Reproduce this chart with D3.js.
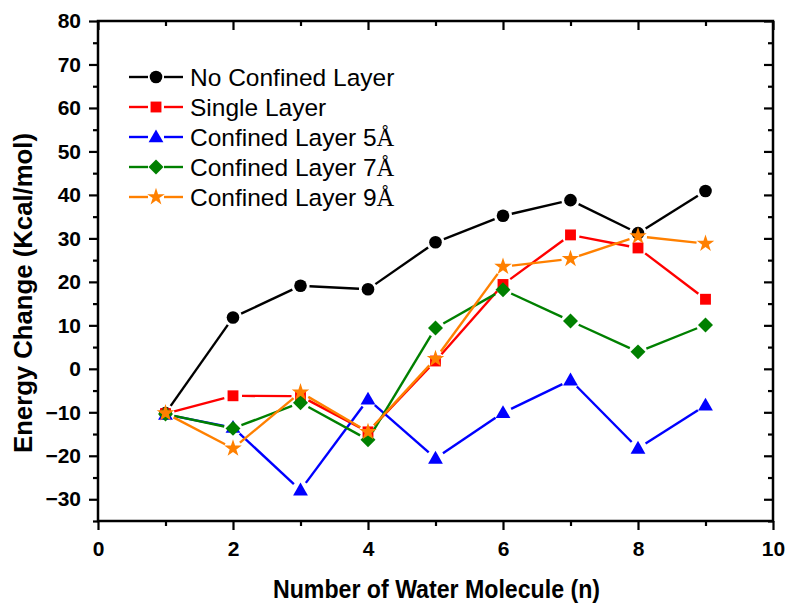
<!DOCTYPE html>
<html>
<head>
<meta charset="utf-8">
<script src="https://cdn.jsdelivr.net/npm/d3@7"></script>
<style>
  body { margin: 0; background: #fff; }
  text { font-family: "Liberation Sans", Arial, sans-serif; }
</style>
</head>
<body>
<svg id="chart" width="786" height="603"></svg>
<script>
// data
const xValues = [1, 2, 3, 4, 5, 6, 7, 8, 9];
const noConfined = [-10.2, 11.8, 19.1, 18.3, 29.1, 35.2, 38.8, 31.2, 40.9];
const singleLayer = [-10.3, -6.2, -6.3, -14.5, 1.8, 19.4, 30.8, 27.8, 16.0];
const confined5 = [-10.5, -13.5, -27.9, -7.0, -20.6, -10.1, -2.6, -18.3, -8.4];
const confined7 = [-10.4, -13.7, -7.8, -16.3, 9.4, 18.2, 11.0, 3.9, 10.1];
const confined9 = [-10.2, -18.3, -5.4, -14.5, 2.3, 23.5, 25.3, 30.5, 28.8];
const seriesNames = ["No Confined Layer", "Single Layer", "Confined Layer 5", "Confined Layer 7", "Confined Layer 9"];
const xTicks = [0, 2, 4, 6, 8, 10];
const yTicks = [-30, -20, -10, 0, 10, 20, 30, 40, 50, 60, 70, 80];

const series = [
  { name: seriesNames[0], values: noConfined, color: "#000000", shape: "circle", angstrom: false },
  { name: seriesNames[1], values: singleLayer, color: "#ff0000", shape: "square", angstrom: false },
  { name: seriesNames[2], values: confined5, color: "#0000ff", shape: "triangle", angstrom: true },
  { name: seriesNames[3], values: confined7, color: "#008000", shape: "diamond", angstrom: true },
  { name: seriesNames[4], values: confined9, color: "#ff8000", shape: "star", angstrom: true }
];

const plotLeft = 98, plotRight = 773, plotTop = 21, plotBottom = 521;

const svg = d3.select("#chart");

const x = d3.scaleLinear().domain([0, 10]).range([plotLeft, plotRight]);
const y = d3.scaleLinear().domain([-35, 80]).range([plotBottom, plotTop]);

// marker paths
function markerPath(shape) {
  if (shape === "circle") return d3.symbol(d3.symbolCircle, 125)();
  if (shape === "square") return d3.symbol(d3.symbolSquare, 118)();
  if (shape === "triangle") return d3.symbol(d3.symbolTriangle, 95)();
  if (shape === "diamond") return d3.symbol(d3.symbolSquare, 112)();
  return d3.symbol(d3.symbolStar, 95)();
}
function markerTransform(shape, px, py) {
  if (shape === "diamond") return `translate(${px},${py}) rotate(45)`;
  if (shape === "triangle") return `translate(${px},${py + 1})`;
  return `translate(${px},${py})`;
}

// axes
const tickFont = "bold 21px 'Liberation Sans', Arial, sans-serif";

const xAxis = d3.axisBottom(x).tickValues(xTicks).tickSize(9).tickPadding(11);
svg.append("g").attr("transform", `translate(0,${plotBottom})`).call(xAxis);
const xMinor = d3.axisBottom(x).tickValues(d3.range(1, 10, 2)).tickSize(5).tickFormat("");
svg.append("g").attr("transform", `translate(0,${plotBottom})`).call(xMinor);

const yAxis = d3.axisLeft(y).tickValues(yTicks).tickSize(9).tickPadding(8);
svg.append("g").attr("transform", `translate(${plotLeft},0)`).call(yAxis);
const yMinor = d3.axisLeft(y).tickValues(d3.range(-35, 80, 10)).tickSize(5).tickFormat("");
svg.append("g").attr("transform", `translate(${plotLeft},0)`).call(yMinor);

// top and right: inward ticks
svg.append("g").attr("transform", `translate(0,${plotTop})`)
  .call(d3.axisBottom(x).tickValues(xTicks).tickSize(9).tickFormat(""));
svg.append("g").attr("transform", `translate(0,${plotTop})`)
  .call(d3.axisBottom(x).tickValues(d3.range(1, 10, 2)).tickSize(5).tickFormat(""));
svg.append("g").attr("transform", `translate(${plotRight},0)`)
  .call(d3.axisLeft(y).tickValues(yTicks).tickSize(9).tickFormat(""));
svg.append("g").attr("transform", `translate(${plotRight},0)`)
  .call(d3.axisLeft(y).tickValues(d3.range(-35, 80, 10)).tickSize(5).tickFormat(""));

svg.selectAll(".domain").remove();
svg.selectAll(".tick line").attr("stroke", "#000").attr("stroke-width", 2.2);
svg.selectAll(".tick text").style("font", tickFont).attr("fill", "#000");

// frame
svg.append("rect")
  .attr("x", plotLeft).attr("y", plotTop)
  .attr("width", plotRight - plotLeft).attr("height", plotBottom - plotTop)
  .attr("fill", "none").attr("stroke", "#000").attr("stroke-width", 2.5);

// axis titles
svg.append("text")
  .attr("x", 436.5).attr("y", 598)
  .attr("text-anchor", "middle")
  .attr("textLength", 327)
  .attr("lengthAdjust", "spacingAndGlyphs")
  .style("font", "bold 25px 'Liberation Sans', Arial, sans-serif")
  .text("Number of Water Molecule (n)");

svg.append("text")
  .attr("transform", "translate(32,293) rotate(-90)")
  .attr("text-anchor", "middle")
  .attr("textLength", 320)
  .attr("lengthAdjust", "spacingAndGlyphs")
  .style("font", "bold 25px 'Liberation Sans', Arial, sans-serif")
  .text("Energy Change (Kcal/mol)");

// lines with gaps around the markers, then markers
const gap = 9;
const plot = svg.append("g");

series.forEach(s => {
  const pts = xValues.map((xv, i) => [x(xv), y(s.values[i])]);
  const segs = [];
  for (let i = 1; i < pts.length; i++) {
    const [x0, y0] = pts[i - 1];
    const [x1, y1] = pts[i];
    const len = Math.hypot(x1 - x0, y1 - y0);
    if (len <= 2 * gap) continue;
    const ux = (x1 - x0) / len, uy = (y1 - y0) / len;
    segs.push([[x0 + ux * gap, y0 + uy * gap], [x1 - ux * gap, y1 - uy * gap]]);
  }
  const g = plot.append("g");
  g.selectAll("path.seg")
    .data(segs)
    .join("path")
    .attr("class", "seg")
    .attr("d", d => d3.line()(d))
    .attr("stroke", s.color)
    .attr("stroke-width", 2.4)
    .attr("fill", "none");
  g.selectAll("path.mark")
    .data(pts)
    .join("path")
    .attr("class", "mark")
    .attr("d", markerPath(s.shape))
    .attr("transform", d => markerTransform(s.shape, d[0], d[1]))
    .attr("fill", s.color);
});

// legend
const legend = svg.append("g");
const legX = 156, legY0 = 77, legStep = 30;
series.forEach((s, i) => {
  const ly = legY0 + i * legStep;
  legend.append("line")
    .attr("x1", legX - 27).attr("x2", legX - 8)
    .attr("y1", ly).attr("y2", ly)
    .attr("stroke", s.color).attr("stroke-width", 2.4);
  legend.append("line")
    .attr("x1", legX + 8).attr("x2", legX + 27)
    .attr("y1", ly).attr("y2", ly)
    .attr("stroke", s.color).attr("stroke-width", 2.4);
  legend.append("path")
    .attr("d", markerPath(s.shape))
    .attr("transform", markerTransform(s.shape, legX, ly))
    .attr("fill", s.color);
  const t = legend.append("text")
    .attr("x", 190).attr("y", ly + 8.5)
    .style("font-size", "24.5px")
    .attr("fill", "#000")
    .text(s.name);
  if (s.angstrom) {
    t.append("tspan")
      .style("font-family", "'Liberation Serif', 'Times New Roman', serif")
      .text("\u00c5");
  }
});
</script>
</body>
</html>
